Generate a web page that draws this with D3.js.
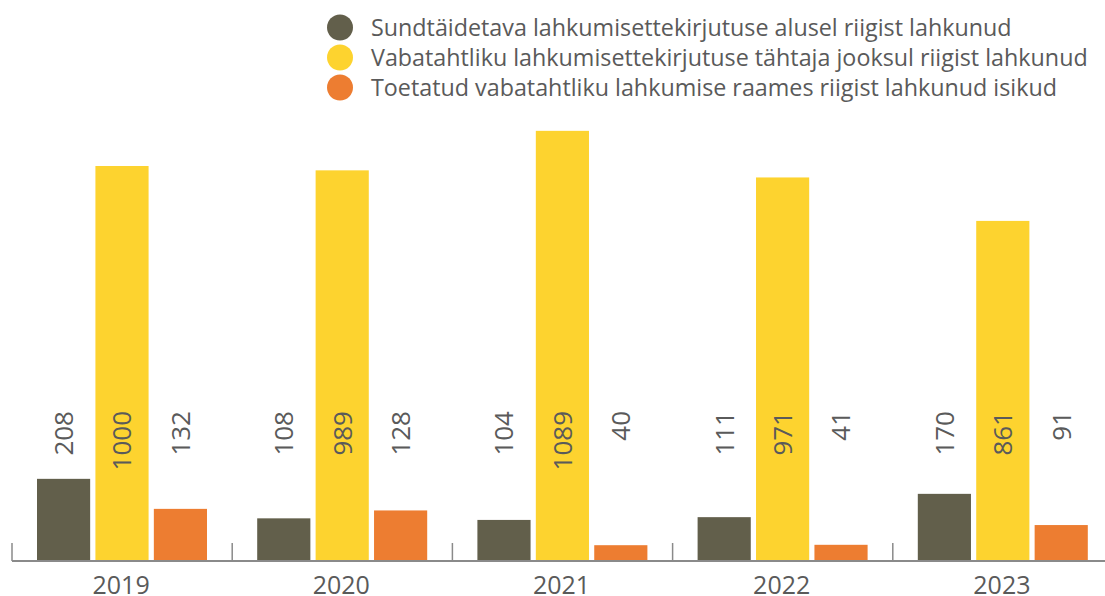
<!DOCTYPE html>
<html>
<head>
<meta charset="utf-8">
<script src="https://cdn.jsdelivr.net/npm/d3@7"></script>
<style>
  html, body { margin: 0; padding: 0; background: #fff; }
  svg { display: block; font-family: "Open Sans", Lato, sans-serif; font-weight: 400; }
</style>
</head>
<body>
<svg id="chart" width="1105" height="596"></svg>
<script>
// Years on the x axis
const years = ["2019", "2020", "2021", "2022", "2023"];

// Series names (legend order)
const seriesNames = [
  "Sundtäidetava lahkumisettekirjutuse alusel riigist lahkunud",
  "Vabatahtliku lahkumisettekirjutuse tähtaja jooksul riigist lahkunud",
  "Toetatud vabatahtliku lahkumise raames riigist lahkunud isikud"
];

// Values per series, one per year
const forcedDepartures = [208, 108, 104, 111, 170];
const voluntaryDepartures = [1000, 989, 1089, 971, 861];
const assistedDepartures = [132, 128, 40, 41, 91];

const seriesColors = ["#625f4b", "#fdd32f", "#ed7d31"];

const seriesValues = [forcedDepartures, voluntaryDepartures, assistedDepartures];

const svg = d3.select("#chart");
const baseY = 561;
const textColor = "#5a5a5a";

const x0 = d3.scaleBand().domain(years).range([12, 1113]).paddingInner(0).paddingOuter(0);
const x1 = d3.scaleBand().domain(d3.range(seriesNames.length)).range([25, 195]).paddingInner(0.09).paddingOuter(0);
const y = d3.scaleLinear().domain([0, 1000]).range([baseY, 166]);

const rows = years.map((yr, i) => ({
  year: yr,
  vals: seriesValues.map((arr, s) => ({ s, v: arr[i] }))
}));

// Bars
const groups = svg.append("g").selectAll("g")
  .data(rows).join("g")
  .attr("transform", d => `translate(${x0(d.year)},0)`);

groups.selectAll("rect")
  .data(d => d.vals).join("rect")
  .attr("x", d => x1(d.s))
  .attr("width", x1.bandwidth())
  .attr("y", d => y(d.v))
  .attr("height", d => baseY - y(d.v))
  .attr("fill", d => seriesColors[d.s]);

// Value labels, rotated, ending at a common height
groups.selectAll("text")
  .data(d => d.vals).join("text")
  .attr("transform", d => `translate(${x1(d.s) + x1.bandwidth() / 2},411) rotate(-90)`)
  .attr("text-anchor", "end")
  .attr("dy", "0.36em")
  .attr("font-size", 26)
  .attr("fill", textColor)
  .text(d => d.v);

// X axis
const axis = svg.append("g").attr("transform", `translate(0,${baseY})`);
axis.append("line")
  .attr("x1", 12).attr("x2", 1105)
  .attr("stroke", "#8a8a8a").attr("stroke-width", 2);
axis.selectAll("line.tick")
  .data(years).join("line")
  .attr("class", "tick")
  .attr("x1", d => x0(d)).attr("x2", d => x0(d))
  .attr("y1", -18).attr("y2", 0)
  .attr("stroke", "#8a8a8a").attr("stroke-width", 1.5);
axis.selectAll("text")
  .data(years).join("text")
  .attr("x", d => x0(d) + x0.bandwidth() / 2 - 1)
  .attr("y", 33)
  .attr("text-anchor", "middle")
  .attr("font-size", 25)
  .attr("fill", textColor)
  .text(d => d);

// Legend
const legend = svg.append("g").selectAll("g")
  .data(seriesNames).join("g")
  .attr("transform", (d, i) => `translate(340,${27.5 + i * 30})`);
legend.append("circle")
  .attr("r", 13)
  .attr("fill", (d, i) => seriesColors[i]);
legend.append("text")
  .attr("x", 31)
  .attr("dy", "0.36em")
  .attr("font-size", 23.3)
  .attr("fill", textColor)
  .text(d => d);
</script>
</body>
</html>
